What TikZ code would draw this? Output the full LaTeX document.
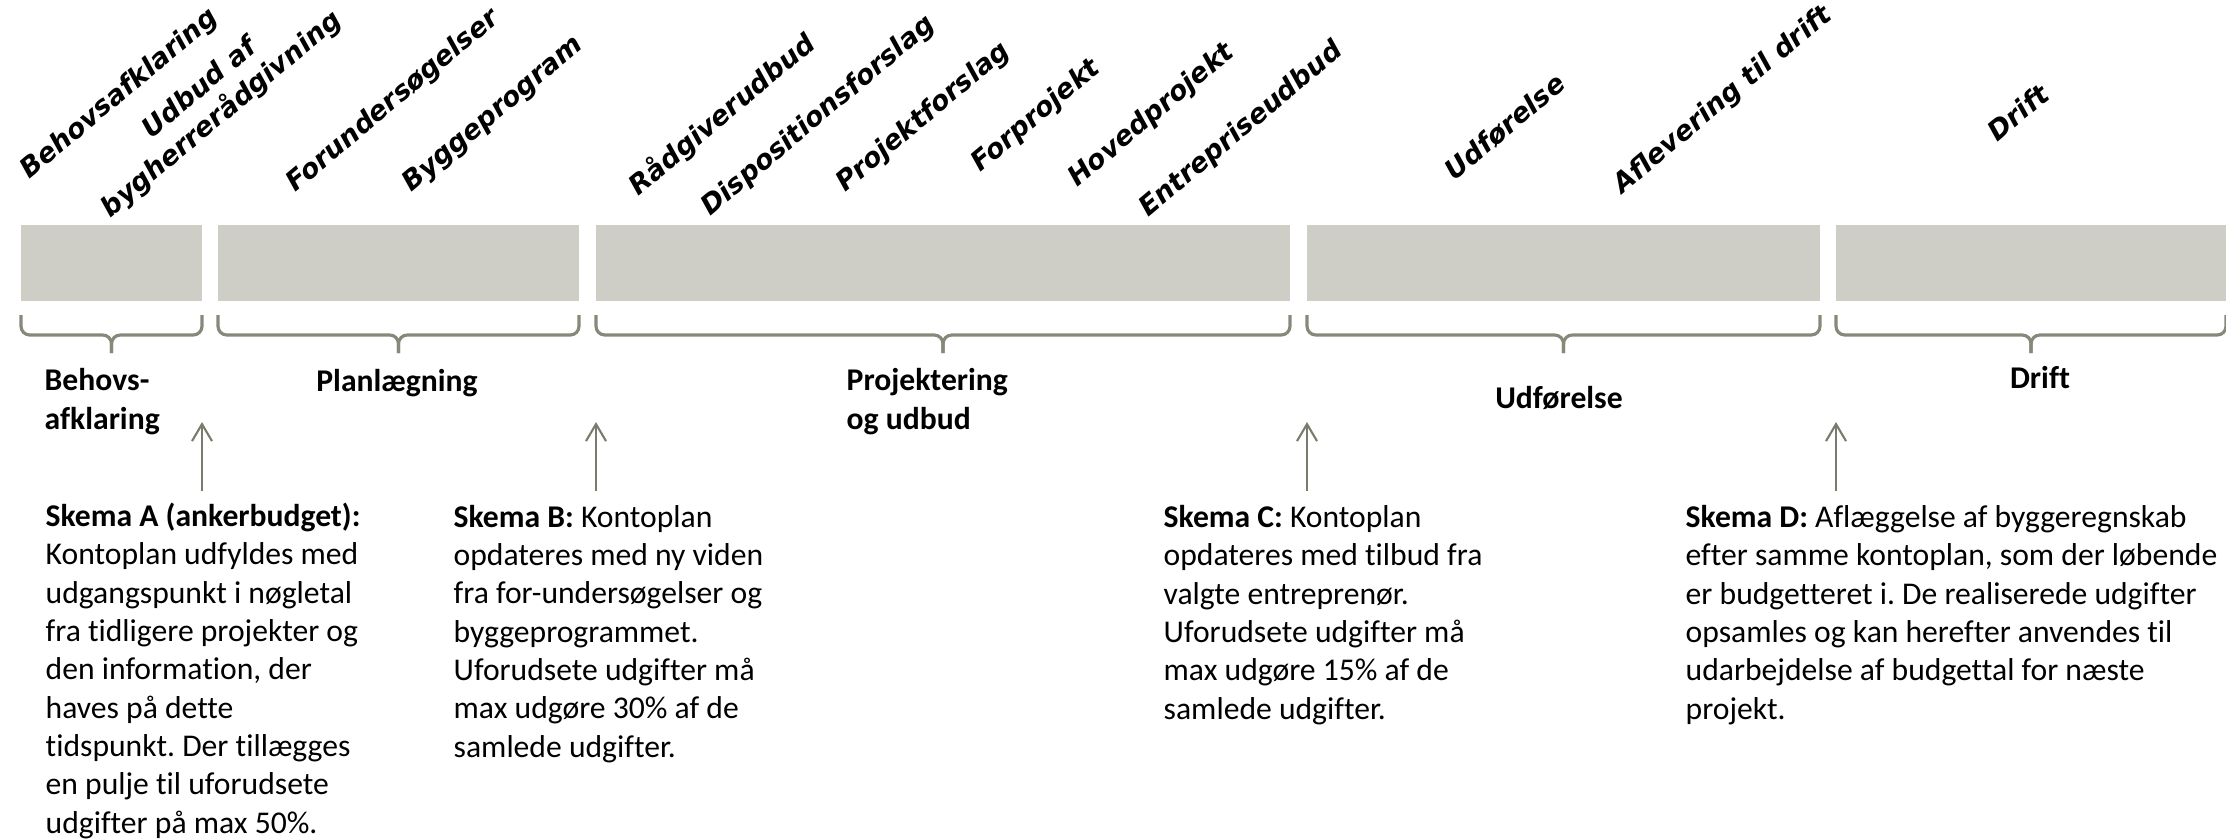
\documentclass[tikz,border=0pt]{standalone}
\usepackage{fontspec}
\setmainfont{Carlito}[Ligatures=NoCommon]
\newfontfamily\milefont{DejaVu Sans}[BoldItalicFont={DejaVu Sans Bold Oblique}]
\usetikzlibrary{arrows.meta,positioning}
\frenchspacing
\definecolor{stone}{HTML}{CFCEC6}
\definecolor{olive}{HTML}{88887A}
\definecolor{arrowgrey}{HTML}{7B7B6D}
\tikzset{
  phase/.style={fill=stone, anchor=north west, minimum height=0.76cm, inner sep=0pt, outer sep=0pt},
  milestone/.style={font=\milefont\bfseries\itshape\fontsize{7.7}{9.6}\selectfont, anchor=base west, inner sep=0pt, rotate=40},
  bracket/.style={draw=olive, line width=0.9pt, rounded corners=2.5pt},
  pointer/.style={-{Straight Barb[length=1.7mm, width=2mm]}, draw=arrowgrey, line width=0.6pt},
  stage/.style={font=\bfseries\fontsize{9}{10.9}\selectfont, inner sep=0pt, align=left},
  note/.style={font=\fontsize{9}{10.9}\selectfont, align=left, inner sep=0pt, anchor=base west}
}

\begin{document}
\begin{tikzpicture}[x=1cm,y=1cm]
\useasboundingbox (0,0) rectangle (22.26,-8.39);
% faser
\node[phase, minimum width=1.81cm] (bar1) at (0.21,-2.25) {};
\node[phase, minimum width=3.61cm] (bar2) at (2.18,-2.25) {};
\node[phase, minimum width=6.94cm] (bar3) at (5.96,-2.25) {};
\node[phase, minimum width=5.13cm] (bar4) at (13.07,-2.25) {};
\node[phase, minimum width=3.90cm] (bar5) at (18.36,-2.25) {};
% milepæle
\foreach \x/\y/\t [count=\i] in {0.29/-1.80/Behovsafklaring, 2.95/-1.93/Forundersøgelser, 4.11/-1.93/Byggeprogram,
    6.38/-1.97/Rådgiverudbud, 7.10/-2.17/Dispositionsforslag, 8.45/-1.93/Projektforslag, 9.80/-1.73/Forprojekt,
    10.77/-1.88/Hovedprojekt, 11.48/-2.18/Entrepriseudbud, 14.54/-1.82/Udførelse, 16.22/-1.95/Aflevering til drift,
    19.97/-1.43/Drift}
  {\node[milestone] (m\i) at (\x,\y) {\t};}
\node[milestone, anchor=center, align=center] (m0) at (2.11,-1.02) {Udbud af\\bygherrerådgivning};
% klammer
\foreach \b in {bar1,bar2,bar3,bar4,bar5} {
  \draw[bracket] ([yshift=-0.14cm]\b.south west) -- ([yshift=-0.34cm]\b.south west) -- ([yshift=-0.34cm]\b.south) -- ([yshift=-0.52cm]\b.south);
  \draw[bracket] ([yshift=-0.14cm]\b.south east) -- ([yshift=-0.34cm]\b.south east) -- ([yshift=-0.34cm]\b.south) -- ([yshift=-0.52cm]\b.south);
}
% base = sidste linje
\node[stage, anchor=base west] (s1) at (0.44,-4.29) {Behovs-\\afklaring};
\node[stage, anchor=base] (s2) at (3.97,-3.91) {Planlægning};
\node[stage, anchor=base west] (s3) at (8.46,-4.29) {Projektering\\og udbud};
\node[stage, anchor=base] (s4) at (15.59,-4.08) {Udførelse};
\node[stage, anchor=base] (s5) at (20.40,-3.88) {Drift};
% skemaer
\node[note] (skemaA) at (0.45,-8.33) {\textbf{Skema A (ankerbudget):}\\Kontoplan udfyldes med\\udgangspunkt i nøgletal\\fra tidligere projekter og\\den information, der\\haves på dette\\tidspunkt. Der tillægges\\en pulje til uforudsete\\udgifter på max 50\%.};
\node[note] (skemaB) at (4.53,-7.57) {\textbf{Skema B:} Kontoplan\\opdateres med ny viden\\fra for-undersøgelser og\\byggeprogrammet.\\Uforudsete udgifter må\\max udgøre 30\% af de\\samlede udgifter.};
\node[note] (skemaC) at (11.63,-7.19) {\textbf{Skema C:} Kontoplan\\opdateres med tilbud fra\\valgte entreprenør.\\Uforudsete udgifter må\\max udgøre 15\% af de\\samlede udgifter.};
\node[note] (skemaD) at (16.85,-7.19) {\textbf{Skema D:} Aflæggelse af byggeregnskab\\efter samme kontoplan, som der løbende\\er budgetteret i. De realiserede udgifter\\opsamles og kan herefter anvendes til\\udarbejdelse af budgettal for næste\\projekt.};
% pile
\coordinate (low) at (0,-4.91);
\coordinate (high) at (0,-4.22);
\draw[pointer] (bar1.east |- low) -- (bar1.east |- high);
\draw[pointer] (bar3.west |- low) -- (bar3.west |- high);
\draw[pointer] (bar4.west |- low) -- (bar4.west |- high);
\draw[pointer] (bar5.west |- low) -- (bar5.west |- high);
\end{tikzpicture}
\end{document}
